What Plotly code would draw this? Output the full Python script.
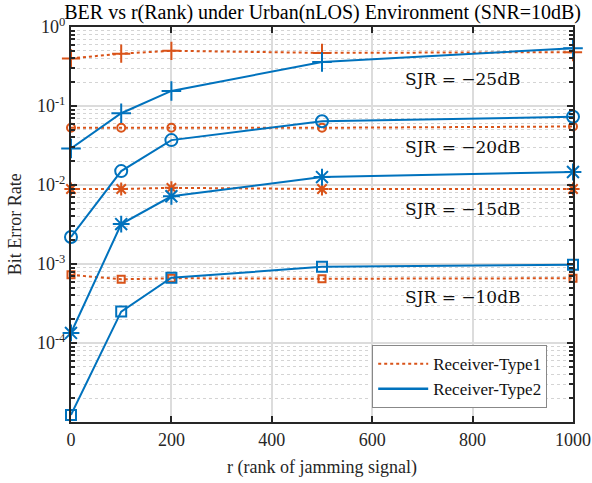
import math
import plotly.graph_objects as go

r = [0, 100, 200, 500, 1000]

t1_25 = [0.40, 0.46, 0.50, 0.47, 0.48]
t1_20 = [0.053, 0.053, 0.053, 0.053, 0.055]
t1_15 = [0.0089, 0.0089, 0.0092, 0.0089, 0.0089]
t1_10 = [0.00073, 0.00064, 0.00066, 0.00065, 0.00066]

t2_25 = [0.029, 0.081, 0.155, 0.36, 0.54]
t2_20 = [0.0022, 0.015, 0.037, 0.064, 0.073]
t2_15 = [0.000134, 0.0032, 0.0072, 0.0126, 0.0146]
t2_10 = [0.0000123, 0.00025, 0.00067, 0.00092, 0.00098]

sjr_labels = ["SJR = \u221225dB", "SJR = \u221220dB", "SJR = \u221215dB", "SJR = \u221210dB"]
sjr_label_y = [0.22, 0.030, 0.0050, 0.00038]

BLUE = "#0072BD"
ORANGE = "#D95319"
SERIF = "Liberation Serif, Times New Roman, serif"

fig = go.Figure()

t1 = [(t1_25, "cross-thin-open", 13), (t1_20, "circle-open", 8),
      (t1_15, "asterisk-open", 11), (t1_10, "square-open", 7)]
t2 = [(t2_25, "cross-thin-open", 14), (t2_20, "circle-open", 12),
      (t2_15, "asterisk-open", 14), (t2_10, "square-open", 10)]

for ys, sym, sz in t1:
    fig.add_trace(go.Scatter(x=r, y=ys, mode="lines+markers", showlegend=False,
                             cliponaxis=False,
                             line=dict(color=ORANGE, width=2, dash="dot"),
                             marker=dict(symbol=sym, size=sz, color=ORANGE,
                                         line=dict(color=ORANGE, width=2))))
for ys, sym, sz in t2:
    fig.add_trace(go.Scatter(x=r, y=ys, mode="lines+markers", showlegend=False,
                             cliponaxis=False,
                             line=dict(color=BLUE, width=2),
                             marker=dict(symbol=sym, size=sz, color=BLUE,
                                         line=dict(color=BLUE, width=2))))

fig.add_trace(go.Scatter(x=[None], y=[None], mode="lines", name="Receiver-Type1",
                         line=dict(color=ORANGE, width=2, dash="dot")))
fig.add_trace(go.Scatter(x=[None], y=[None], mode="lines", name="Receiver-Type2",
                         line=dict(color=BLUE, width=2.5)))

for txt, yv in zip(sjr_labels, sjr_label_y):
    fig.add_annotation(x=780, y=math.log10(yv), text=txt, showarrow=False, yref="y",
                       xref="x", font=dict(family="DejaVu Serif", size=17, color="#111"))

fig.add_annotation(xref="paper", yref="paper", x=-0.112, y=0.5, text="Bit Error Rate",
                   textangle=-90, showarrow=False, xanchor="center", yanchor="middle",
                   font=dict(family=SERIF, size=18, color="#262626"))

major = [1e-4, 1e-3, 1e-2, 1e-1, 1]
major_txt = ["10<sup>-4</sup>", "10<sup>-3</sup>", "10<sup>-2</sup>", "10<sup>-1</sup>", "10<sup>0</sup>"]
minor = [m * 10 ** e for e in range(-5, 0) for m in range(2, 10)]

fig.update_layout(
    width=592, height=483,
    margin=dict(l=71, r=19, t=27, b=61, autoexpand=False),
    paper_bgcolor="white", plot_bgcolor="white",
    font=dict(family=SERIF, size=17, color="#262626"),
    title=dict(text="BER vs r(Rank) under Urban(nLOS) Environment (SNR=10dB)",
               x=0.545, xanchor="center", y=0.975, yanchor="middle",
               font=dict(family=SERIF, size=20, color="#000")),
    legend=dict(x=0.6, xanchor="left", y=0.035, yanchor="bottom",
                bgcolor="white", bordercolor="#888", borderwidth=1,
                font=dict(family=SERIF, size=17, color="#111"), tracegroupgap=0,
                itemwidth=50),
)
fig.update_xaxes(range=[0, 1000], tickvals=[0, 200, 400, 600, 800, 1000],
                 automargin=False,
                 showgrid=True, gridcolor="#dcdcdc", gridwidth=1.5,
                 zeroline=False, showline=True, linecolor="#262626", linewidth=2,
                 mirror="allticks", ticks="inside", ticklen=6, tickwidth=1.5,
                 tickcolor="#262626", tickfont=dict(family=SERIF, size=18),
                 title=dict(text="r (rank of jamming signal)", standoff=12,
                            font=dict(family=SERIF, size=18)))
fig.update_yaxes(type="log", range=[-5, 0], tickvals=major, ticktext=major_txt,
                 automargin=False,
                 showgrid=True, gridcolor="#dcdcdc", gridwidth=1.5,
                 zeroline=False, showline=True, linecolor="#262626", linewidth=2,
                 mirror="allticks", ticks="inside", ticklen=6, tickwidth=1.5,
                 tickcolor="#262626", tickfont=dict(family=SERIF, size=18),
                 minor=dict(tickvals=minor, ticks="inside", ticklen=4,
                            tickcolor="#262626", showgrid=True,
                            gridcolor="#d4d4d4", griddash="dot", gridwidth=1))

fig.write_html("out.html")
